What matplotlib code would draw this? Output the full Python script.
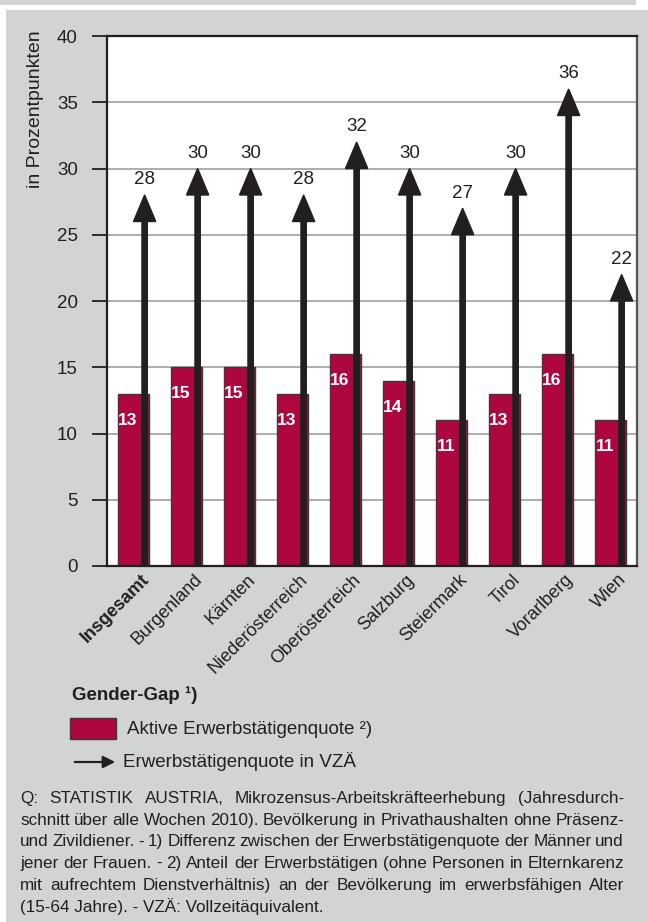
"""Gender-Gap in der Erwerbstaetigkeit nach Bundeslaendern (2010)"""

import matplotlib
matplotlib.use('Agg')
import matplotlib.pyplot as plt
import matplotlib.patches as patches
from matplotlib.transforms import ScaledTranslation
import numpy as np

plt.rcParams['font.family'] = ['Liberation Sans', 'DejaVu Sans']

regions = ['Insgesamt', 'Burgenland', 'Kärnten', 'Niederösterreich', 'Oberösterreich',
           'Salzburg', 'Steiermark', 'Tirol', 'Vorarlberg', 'Wien']
gap_active = [13, 15, 15, 13, 16, 14, 11, 13, 16, 11]
gap_vzae = [28, 30, 30, 28, 32, 30, 27, 30, 36, 22]
y_ticks = [0, 5, 10, 15, 20, 25, 30, 35, 40]

legend_title = 'Gender-Gap ¹)'
legend_bar = 'Aktive Erwerbstätigenquote ²)'
legend_arrow = 'Erwerbstätigenquote in VZÄ'
source_lines = [
  'Q: STATISTIK AUSTRIA, Mikrozensus-Arbeitskräfteerhebung (Jahresdurch-',
  'schnitt über alle Wochen 2010). Bevölkerung in Privathaushalten ohne Präsenz-',
  'und Zivildiener. - 1) Differenz zwischen der Erwerbstätigenquote der Männer und',
  'jener der Frauen. - 2) Anteil der Erwerbstätigen (ohne Personen in Elternkarenz',
  'mit aufrechtem Dienstverhältnis) an der Bevölkerung im erwerbsfähigen Alter',
  '(15-64 Jahre). - VZÄ: Vollzeitäquivalent.',
]

W, H = 648, 922
GRAY = '#d1d3d4'
RED = '#ae0740'
DARK = '#231f20'


def px(x, y):
  """pixel coords (top-left origin) -> figure fraction"""
  return x / W, 1 - y / H


def justify_lines(fig, lines, x0, x1, y0, dy, size):
  renderer = fig.canvas.get_renderer()
  for n, line in enumerate(lines):
    _, yf = px(0, y0 + n * dy)
    if n == len(lines) - 1:
      fig.text(x0 / W, yf, line, fontsize=size, color=DARK, va='baseline')
      continue
    words = line.split(' ')
    texts = [fig.text(0, yf, w, fontsize=size, color=DARK, va='baseline') for w in words]
    widths = [t.get_window_extent(renderer).width for t in texts]
    space = max((x1 - x0 - sum(widths)) / (len(words) - 1), 2.0)
    x = x0
    for t, w in zip(texts, widths):
      t.set_x(x / W)
      x += w + space


fig = plt.figure(figsize=(W / 100, H / 100), dpi=100, facecolor='white')
fig.patches.append(patches.Rectangle(px(6, H), (W - 6) / W, (H - 10) / H, transform=fig.transFigure,
                                     facecolor=GRAY, edgecolor='none', zorder=-10))
fig.patches.append(patches.Rectangle(px(0, 5), 636 / W, 5 / H, transform=fig.transFigure,
                                     facecolor=GRAY, edgecolor='none', zorder=-10))

ax = fig.add_axes([107 / W, 1 - 566 / H, 530 / W, 530 / H])
ax.set_facecolor('white')
x = np.arange(len(regions))

ax.bar(x, gap_active, width=0.6, color=RED, edgecolor='#3a3a3a', linewidth=1.0, zorder=2)
for xi, v in zip(x, gap_active):
  ax.text(xi - 0.11, v - 2.0, str(v), color='white', fontsize=12.5, fontweight='bold',
          ha='center', va='center', zorder=5)

for xi, v in zip(x, gap_vzae):
  ax.arrow(xi + 0.21, 0, 0, v, width=0.1, head_width=0.42, head_length=2.0,
           length_includes_head=True, color=DARK, zorder=4)
  ax.text(xi + 0.21, v + 0.5, str(v), color=DARK, fontsize=13.5, ha='center', va='bottom', zorder=5)

ax.set_xlim(-0.5, 9.5)
ax.set_ylim(0, 40)
ax.set_yticks(y_ticks)
ax.yaxis.grid(True, color='#a0a0a0', linewidth=1.2, zorder=0)
ax.set_axisbelow(True)
ax.tick_params(axis='y', length=11, width=1.3, color=DARK, pad=10, labelsize=13.5, labelcolor=DARK)
ax.tick_params(axis='x', length=0, pad=8, labelsize=13, labelcolor=DARK)
for s in ax.spines.values():
  s.set_color(DARK)
  s.set_linewidth(1.6)
ax.spines['right'].set_color('#555555')

ax.set_xticks(x)
ax.set_xticklabels(regions, rotation=45, ha='right', va='center', rotation_mode='anchor')
ax.get_xticklabels()[0].set_fontweight('bold')
shift = ScaledTranslation(13 / 100, 0, fig.dpi_scale_trans)
for lbl in ax.get_xticklabels():
  lbl.set_transform(lbl.get_transform() + shift)

fig.text(*px(36, 30), 'in Prozentpunkten', rotation=90, ha='center', va='top', fontsize=14, color=DARK)

# legend
fig.text(*px(72, 700), legend_title, fontsize=13.5, fontweight='bold', color=DARK, va='baseline')
fig.patches.append(patches.Rectangle(px(70, 739), 46 / W, 21 / H, transform=fig.transFigure,
                                     facecolor=RED, edgecolor='#3a3a3a', linewidth=1.0))
fig.text(*px(127, 734), legend_bar, fontsize=13.5, color=DARK, va='baseline')
fig.patches.append(patches.FancyArrowPatch(px(72, 762), px(118, 762), transform=fig.transFigure,
                                           arrowstyle='-|>,head_length=0.6,head_width=0.3',
                                           mutation_scale=12, color=DARK, linewidth=1.6))
fig.text(*px(123, 767), legend_arrow, fontsize=13.5, color=DARK, va='baseline')

justify_lines(fig, source_lines, 20, 624, 803, 21.7, 12.3)

fig.savefig('out.png', dpi=100, facecolor=fig.get_facecolor())
